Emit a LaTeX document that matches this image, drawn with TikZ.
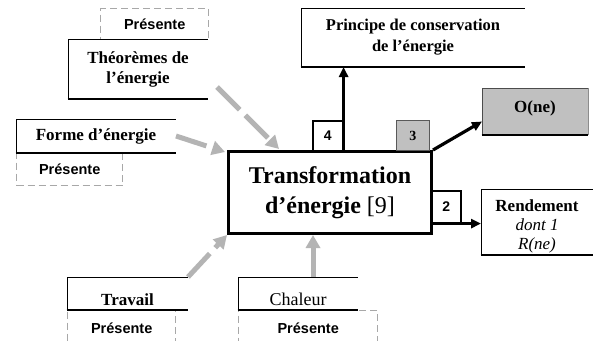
\documentclass[tikz,border=0pt]{standalone}
\usepackage{fontspec}
\setmainfont{Liberation Serif}
\newfontfamily\presfont{Liberation Sans}
\usetikzlibrary{arrows.meta}
\definecolor{arrgray}{HTML}{B4B4B4}
\definecolor{dashgray}{HTML}{A8A8A8}
\definecolor{fillgray}{HTML}{C0C0C0}
\newcommand\drawopenbox[1]{%
  \draw[thinln] (#1.south west) -- (#1.north west) -- (#1.north east);
  \draw[thickln] ([xshift=-0.4pt]#1.south west) -- (#1.south east);}
\begin{document}
\begin{tikzpicture}[x=1pt,y=-1pt,
  txtbox/.style={inner sep=0pt, outer sep=0pt, anchor=north west, align=center,
    fill=white, font=\bfseries\fontsize{17}{20}\selectfont},
  presbox/.style={draw=dashgray, line width=1.4pt, dash pattern=on 7pt off 4pt,
    anchor=north west, inner sep=0pt, font=\presfont\bfseries\fontsize{14.5}{16}\selectfont},
  thinln/.style={line width=0.8pt},
  thickln/.style={line width=2.4pt},
  grayarrow/.style={draw=arrgray, line width=5pt, dash pattern=on 32pt off 8pt,
    -{Triangle[length=13pt,width=14pt,fill=arrgray]}},
  blkarrow/.style={line width=3.2pt, -{Triangle[length=10pt,width=9pt]}},
  numbox/.style={draw, line width=1.6pt, anchor=north west, inner sep=0pt, fill=white,
    font=\presfont\bfseries\fontsize{14}{16}\selectfont},
  mainbox/.style={draw, line width=3pt, fill=white, anchor=north west, inner sep=0pt,
    align=center, font=\bfseries\fontsize{24}{30}\selectfont},
]
\useasboundingbox[fill=white] (0,0) rectangle (593,340);

% dashed "Présente" boxes
\node[presbox, minimum width=108pt, minimum height=31pt] (presT) at (100,8) {Présente};
\node[presbox, minimum width=106pt, minimum height=32pt] (presF) at (16,153) {Présente};
\node[presbox, minimum width=108pt, minimum height=36pt] (presTr) at (67,310) {Présente};
\node[presbox, minimum width=139pt, minimum height=36pt] (presC) at (238,310) {Présente};

% text boxes
\node[txtbox, minimum width=140pt, minimum height=60pt] (theo) at (68,39) {Théorèmes de\\l’énergie};
\node[txtbox, minimum width=160pt, minimum height=34pt] (forme) at (16,119) {Forme d’énergie};
\node[txtbox, minimum width=224pt, minimum height=59pt,
  font=\bfseries\fontsize{16.5}{21}\selectfont] (princ) at (301,8) {Principe de conservation\\de l’énergie};
\node[txtbox, minimum width=121pt, minimum height=33pt, text height=28pt, text depth=5pt] (trav) at (67,277) {Travail};
\node[txtbox, minimum width=120pt, minimum height=33pt, text height=28pt, text depth=5pt,
  font=\fontsize{18}{20}\selectfont] (chal) at (238,277) {Chaleur};
\node[txtbox, minimum width=112pt, minimum height=66pt,
  font=\fontsize{17}{19}\selectfont] (rend) at (481,189)
  {\rule{0pt}{20pt}\textbf{Rendement}\\\textit{dont 1}\\\textit{R(ne)}};
\node[txtbox, fill=fillgray, minimum width=106pt, minimum height=47pt, text height=24pt, text depth=23pt] (one) at (482,88) {O(ne)};

\drawopenbox{theo}
\drawopenbox{forme}
\drawopenbox{princ}
\drawopenbox{trav}
\drawopenbox{chal}
\drawopenbox{rend}
\draw[line width=0.9pt, draw=gray!60!black] (one.south west) -- (one.north west) -- (one.north east);
\draw[line width=0.8pt, draw=gray!90] (one.north east) -- (one.south east);
\draw[thickln] ([xshift=-0.4pt]one.south west) -- (one.south east);

\coordinate (theoOut) at ([xshift=9pt,yshift=12pt]theo.south east);
\coordinate (chalOut) at ([xshift=15pt]chal.north);

% main box
\node[mainbox, minimum width=203pt, minimum height=82pt] (main) at (227,150)
  {Transformation\\d’énergie {\mdseries[9]}};

% gray dashed arrows
\draw[grayarrow] (theoOut) -- ([xshift=52pt,yshift=1pt]main.north west);
\draw[grayarrow] (forme.east) -- ([xshift=-2pt,yshift=-2pt]main.north west);
\draw[grayarrow] (trav.north east) -- (main.south west);
\draw[grayarrow] (chalOut) -- (chalOut |- main.south);

% number boxes
\node[numbox, minimum width=30pt, minimum height=30pt] (n4) at (312,120) {4};
\node[numbox, draw=gray!70!black, line width=0.9pt, fill=fillgray,
  font=\bfseries\fontsize{14}{16}\selectfont, minimum width=33pt, minimum height=30pt] (n3) at (396,120) {3};
\node[numbox, minimum width=29pt, minimum height=32pt] (n2) at (431,190) {2};

% black arrows
\draw[blkarrow] (n4.north east |- main.north) -- (n4.north east |- princ.south);
\draw[blkarrow] (main.north east) -- ([yshift=-10pt]one.west);
\draw[blkarrow] (main.east |- n2.south) -- (rend.west |- n2.south);
\end{tikzpicture}
\end{document}
